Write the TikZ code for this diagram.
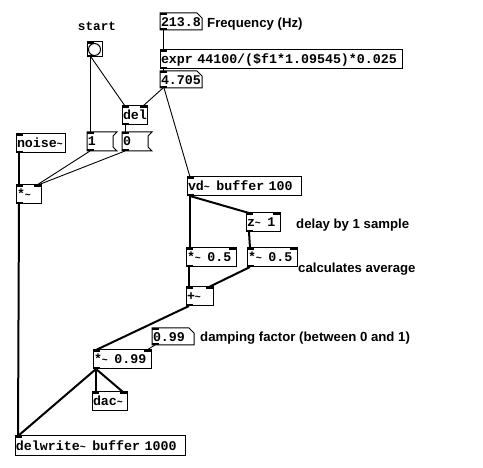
\documentclass[tikz,border=0pt]{standalone}
\usepackage{fontspec}
\usepackage{graphicx}
\usetikzlibrary{calc}
\newfontfamily\pdfont{Liberation Mono}
\newfontfamily\cmtfont{Liberation Sans}
\newcommand\pdtl{\makebox[0.6em][l]{\raisebox{0.3pt}{\scalebox{0.75}[0.8]{\textasciitilde}}}}
\newcommand\inL[1]{\fill (#1.north west) rectangle ++(7,2);}
\newcommand\inR[1]{\fill (#1.north east) rectangle ++(-7,2);}
\newcommand\outL[1]{\fill (#1.south west) rectangle ++(7,-2);}
\tikzset{
 pdtext/.style={font=\pdfont\bfseries\fontsize{13.3}{14}\selectfont},
 box/.style={pdtext, anchor=north west, inner xsep=1pt, inner ysep=0pt, outer sep=0pt, align=left, line width=1pt, text height=10pt, text depth=1pt},
 obj/.style={box, draw, minimum height=19pt},
 num/.style={box, minimum height=17pt, text depth=0pt},
 msgbox/.style={box, minimum height=19pt},
 cmt/.style={font=\cmtfont\bfseries\fontsize{13.2}{14}\selectfont, anchor=base west, inner sep=0pt},
 ctl/.style={line width=0.9pt},
 sig/.style={line width=2pt},
 outline/.style={line width=1pt},
}
\begin{document}
\begin{tikzpicture}[x=1pt,y=-1pt]
\useasboundingbox (0,0) rectangle (483,468);
\fill[white] (0,0) rectangle (483,468);

% label and bang
\node[pdtext, font=\pdfont\bfseries\fontsize{12.7}{14}\selectfont, anchor=base, inner sep=0pt] (startlbl) at (97,31) {start};
\node[draw, outline, minimum size=15pt, anchor=north west, inner sep=0pt, outer sep=0pt] (bang) at (87,42) {};
\draw[outline] (bang.center) circle (6);

% control objects
\node[msgbox, text width=28pt] (m1) at (87,132) {1};
\node[msgbox, text width=28pt] (m0) at (122,132) {0};
\node[obj, text width=23pt] (del) at (122,106) {del};
\node[num, text width=40pt] (freq) at (160,13) {213.8};
\node[obj, text width=240pt] (expr) at (160,50) {expr 44100/(\$f1*1.09545)*0.025};
\node[num, text width=40pt] (res) at (160,71) {4.705};
\node[num, text width=40pt] (damp) at (152,328) {0.99};

% signal objects
\node[obj, text width=47pt] (noise) at (16,134) {noise\pdtl};
\node[obj, text width=23pt] (mulA) at (16,185) {*\pdtl};
\node[obj, text width=112pt] (vd) at (187,177) {vd\pdtl{} buffer 100};
\node[obj, text width=32pt] (z) at (246,213) {z\pdtl{} 1};
\node[obj, text width=48pt] (hL) at (186,248) {*\pdtl{} 0.5};
\node[obj, text width=48pt] (hR) at (247,248) {*\pdtl{} 0.5};
\node[obj, text width=25pt] (add) at (186,287) {+\pdtl};
\node[obj, text width=56pt] (mulB) at (93,350) {*\pdtl{} 0.99};
\node[obj, text width=33pt] (dac) at (92,392) {dac\pdtl};
\node[obj, text width=168pt, minimum height=20pt] (dw) at (15,436) {delwrite\pdtl{} buffer 1000};

% comments
\node[cmt] (c1) at (207,27.5) {Frequency (Hz)};
\node[cmt] (c2) at (296,229) {delay by 1 sample};
\node[cmt] (c3) at (298,273) {calculates average};
\node[cmt] (c4) at (200,342) {damping factor (between 0 and 1)};

% number box outlines
\foreach \n in {freq,res,damp}{
 \draw[outline] (\n.north west) -- ($(\n.north east)+(-5,0)$) -- ($(\n.north east)+(0,5)$) -- (\n.south east) -- (\n.south west) -- cycle;
}
% message box outlines
\foreach \n in {m1,m0}{
 \draw[outline] (\n.north west) -- (\n.north east) -- ($(\n.north east)+(-4,4)$) -- ($(\n.south east)+(-4,-4)$) -- (\n.south east) -- (\n.south west) -- cycle;
}

% inlets / outlets
\foreach \n in {bang,m1,m0,del,freq,expr,res,damp,noise,mulA,vd,z,hL,hR,add,mulB,dac,dw}{\inL{\n}}
\foreach \n in {del,mulA,z,hL,hR,add,mulB,dac}{\inR{\n}}
\foreach \n in {bang,m1,m0,del,freq,expr,res,damp,noise,mulA,vd,z,hL,hR,add,mulB}{\outL{\n}}

% control connections
\draw[ctl] ($(bang.south west)+(3,0)$) -- ($(m1.north west)+(3,0)$);
\draw[ctl] ($(bang.south west)+(4,0)$) -- ($(del.north west)+(3,0)$);
\draw[ctl] ($(freq.south west)+(3,0)$) -- ($(expr.north west)+(3,0)$);
\draw[ctl] ($(expr.south west)+(3,0)$) -- ($(res.north west)+(3,0)$);
\draw[ctl] ($(res.south west)+(3,0)$) -- ($(del.north east)+(-4,0)$);
\draw[ctl] ($(res.south west)+(4,0)$) -- ($(vd.north west)+(3,0)$);
\draw[ctl] ($(del.south west)+(3,0)$) -- ($(m0.north west)+(3,0)$);
\draw[ctl] ($(m1.south west)+(3,0)$) -- ($(mulA.north east)+(-4,0)$);
\draw[ctl] ($(m0.south west)+(3,0)$) -- ($(mulA.north east)+(-3,0)$);
\draw[ctl] ($(damp.south west)+(3,0)$) -- ($(mulB.north east)+(-4,0)$);

% signal connections
\draw[sig] ($(noise.south west)+(3,0)$) -- ($(mulA.north west)+(3,0)$);
\draw[sig] ($(mulA.south west)+(3,0)$) -- ($(dw.north west)+(3,0)$);
\draw[sig] ($(vd.south west)+(3,0)$) -- ($(hL.north west)+(4,0)$);
\draw[sig] ($(vd.south west)+(3,0)$) -- ($(z.north west)+(3,0)$);
\draw[sig] ($(z.south west)+(3,0)$) -- ($(hR.north west)+(3,0)$);
\draw[sig] ($(hL.south west)+(3,0)$) -- ($(add.north west)+(3,0)$);
\draw[sig] ($(hR.south west)+(3,0)$) -- ($(add.north east)+(-4,0)$);
\draw[sig] ($(add.south west)+(3,0)$) -- ($(mulB.north west)+(3,0)$);
\draw[sig] ($(mulB.south west)+(3,0)$) -- ($(dac.north west)+(4,0)$);
\draw[sig] ($(mulB.south west)+(3,0)$) -- ($(dac.north east)+(-4,0)$);
\draw[sig] ($(mulB.south west)+(3,0)$) -- ($(dw.north west)+(3,0)$);
\end{tikzpicture}
\end{document}
